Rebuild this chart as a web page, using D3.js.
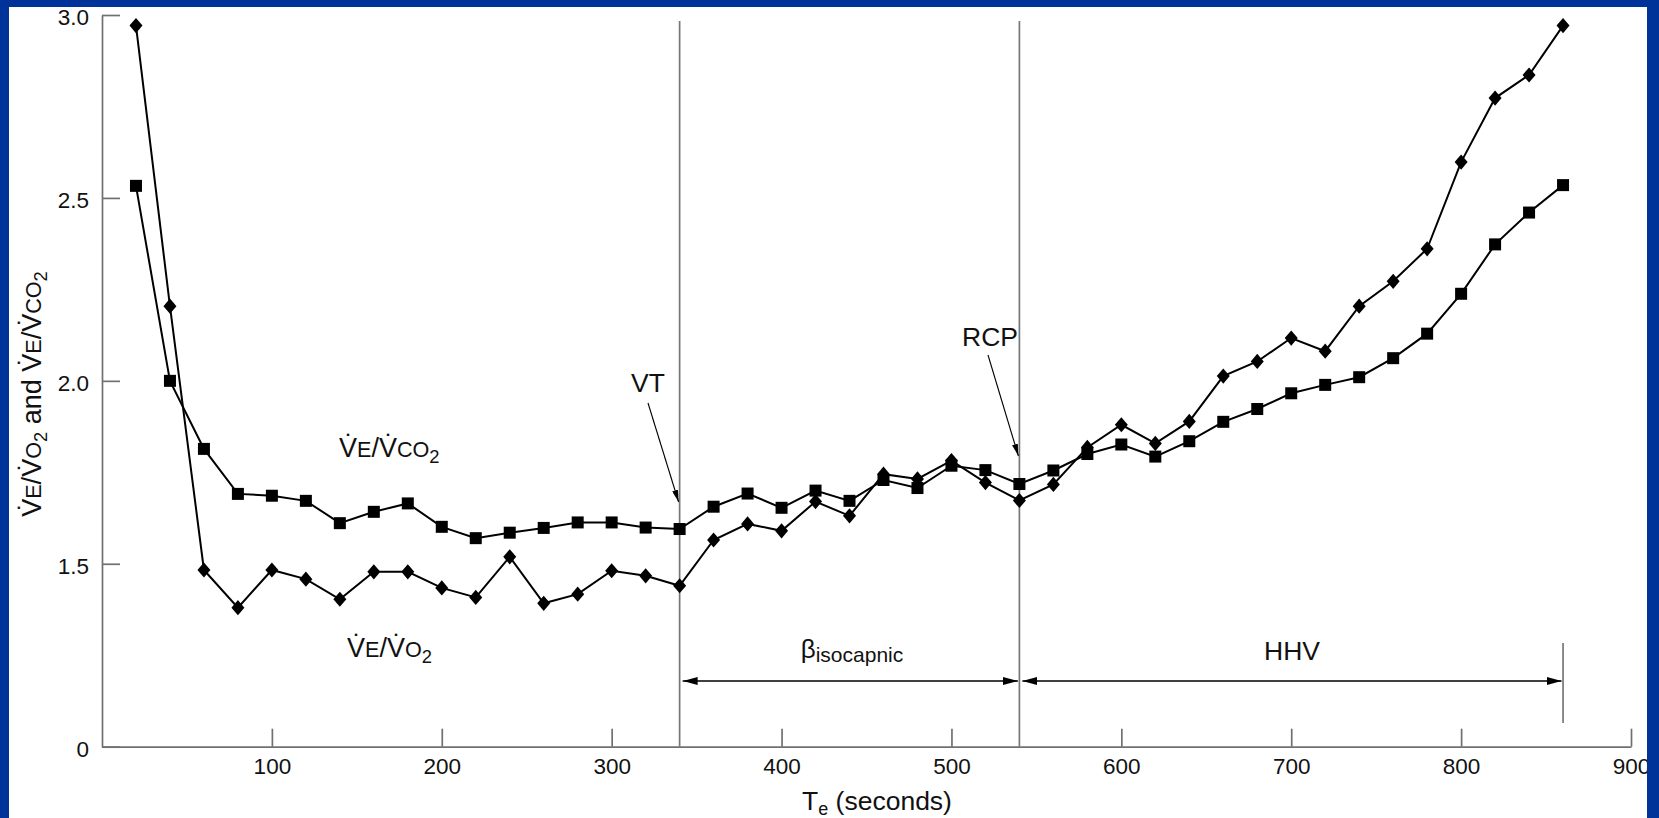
<!DOCTYPE html>
<html>
<head>
<meta charset="utf-8">
<script src="https://cdn.jsdelivr.net/npm/d3@7"></script>
<style>
  html, body { margin: 0; padding: 0; background: #003399; }
  svg { display: block; }
  text { font-family: "Liberation Sans", Arial, Helvetica, sans-serif; fill: #111; }
</style>
</head>
<body>
<svg id="chart" width="1659" height="818"></svg>
<script>
// Exercise test: ventilatory equivalents sampled every 20 s
const times = [20, 40, 60, 80, 100, 120, 140, 160, 180, 200, 220, 240, 260, 280, 300,
  320, 340, 360, 380, 400, 420, 440, 460, 480, 500, 520, 540, 560, 580, 600,
  620, 640, 660, 680, 700, 720, 740, 760, 780, 800, 820, 840, 860];

// VE/VCO2 (squares)
const veVco2 = [2.533, 2.000, 1.814, 1.691, 1.686, 1.672, 1.611, 1.642, 1.665, 1.601,
  1.570, 1.585, 1.598, 1.613, 1.613, 1.599, 1.595, 1.656, 1.692, 1.653,
  1.700, 1.672, 1.729, 1.707, 1.768, 1.756, 1.718, 1.755, 1.800, 1.826,
  1.793, 1.835, 1.888, 1.923, 1.966, 1.989, 2.010, 2.062, 2.129, 2.238,
  2.373, 2.460, 2.535];

// VE/VO2 (diamonds)
const veVo2 = [2.971, 2.204, 1.483, 1.380, 1.483, 1.458, 1.403, 1.478, 1.478, 1.434,
  1.408, 1.519, 1.392, 1.417, 1.481, 1.467, 1.440, 1.565, 1.609, 1.590,
  1.670, 1.631, 1.745, 1.732, 1.782, 1.722, 1.673, 1.717, 1.818, 1.880,
  1.829, 1.889, 2.013, 2.053, 2.117, 2.081, 2.204, 2.272, 2.361, 2.598,
  2.773, 2.836, 2.971];

const xTicks = [100, 200, 300, 400, 500, 600, 700, 800, 900];
const yTicks = [0, 1.5, 2.0, 2.5, 3.0];

// Threshold times (s)
const vtTime = 340;
const rcpTime = 540;
const endTime = 860;

const W = 1659, H = 818;
const frame = { left: 9, top: 7, right: 1647 };
const plot = { left: 102, right: 1631, top: 15, bottom: 746.7 };

const svg = d3.select("#chart");

// white sheet
svg.append("rect")
  .attr("x", frame.left).attr("y", frame.top)
  .attr("width", frame.right - frame.left).attr("height", H - frame.top)
  .attr("fill", "#fff");

const x = d3.scaleLinear().domain([0, 900]).range([plot.left, plot.right]);

// broken value axis: 0 .. yBreak is squeezed, yBreak .. 3.0 is linear (1.0 sits at the baseline)
const yBreak = 1.25;
const yLin = v => plot.top + (3.0 - v) / 2.0 * (plot.bottom - plot.top);
const y = d3.scaleLinear()
  .domain([0, yBreak, 3.0])
  .range([plot.bottom, yLin(yBreak), plot.top]);

const axisColor = "#707070";

// x axis
const gx = svg.append("g")
  .attr("transform", `translate(0,${plot.bottom})`)
  .call(d3.axisBottom(x).tickValues(xTicks).tickSize(-18).tickSizeOuter(0).tickPadding(11)
    .tickFormat(d3.format("d")));
gx.select(".domain").attr("stroke", axisColor).attr("stroke-width", 1.7);
gx.selectAll(".tick line").attr("stroke", axisColor).attr("stroke-width", 1.7);
gx.selectAll(".tick text").attr("font-size", 22.5).attr("fill", "#111")
  .attr("font-family", '"Liberation Sans", Arial, sans-serif');

// y axis
const gy = svg.append("g")
  .attr("transform", `translate(${plot.left},0)`)
  .call(d3.axisLeft(y).tickValues(yTicks).tickSize(-18).tickSizeOuter(0).tickPadding(13)
    .tickFormat(d => d === 0 ? "0" : d3.format(".1f")(d)));
gy.select(".domain").attr("stroke", axisColor).attr("stroke-width", 1.7);
gy.selectAll(".tick line").attr("stroke", axisColor).attr("stroke-width", 1.7);
gy.selectAll(".tick text").attr("font-size", 22.5).attr("fill", "#111").attr("dy", "0.42em")
  .attr("font-family", '"Liberation Sans", Arial, sans-serif');

// threshold lines
[vtTime, rcpTime].forEach(t => {
  svg.append("line")
    .attr("x1", x(t)).attr("x2", x(t))
    .attr("y1", 21).attr("y2", plot.bottom)
    .attr("stroke", "#777").attr("stroke-width", 1.7);
});
svg.append("line")
  .attr("x1", x(endTime)).attr("x2", x(endTime))
  .attr("y1", 643).attr("y2", 723)
  .attr("stroke", "#777").attr("stroke-width", 1.7);

// arrowheads
const defs = svg.append("defs");
defs.append("marker").attr("id", "head")
  .attr("viewBox", "0 0 15 8").attr("refX", 15).attr("refY", 4)
  .attr("markerWidth", 15).attr("markerHeight", 8).attr("markerUnits", "userSpaceOnUse")
  .attr("orient", "auto-start-reverse")
  .append("path").attr("d", "M0,0 L15,4 L0,8 Z").attr("fill", "#000");
defs.append("marker").attr("id", "pointer")
  .attr("viewBox", "0 0 12 6").attr("refX", 12).attr("refY", 3)
  .attr("markerWidth", 12).attr("markerHeight", 6).attr("markerUnits", "userSpaceOnUse")
  .attr("orient", "auto")
  .append("path").attr("d", "M0,0 L12,3 L0,6 Z").attr("fill", "#000");

// phase spans
const spanY = 681;
[[vtTime, rcpTime], [rcpTime, endTime]].forEach(([a, b]) => {
  svg.append("line")
    .attr("x1", x(a) + 3).attr("x2", x(b) - 1.5)
    .attr("y1", spanY).attr("y2", spanY)
    .attr("stroke", "#000").attr("stroke-width", 1.5)
    .attr("marker-start", "url(#head)").attr("marker-end", "url(#head)");
});

// threshold callouts
svg.append("line").attr("x1", 648).attr("y1", 403).attr("x2", x(vtTime) - 1).attr("y2", 502)
  .attr("stroke", "#000").attr("stroke-width", 1.1).attr("marker-end", "url(#pointer)");
svg.append("line").attr("x1", 988).attr("y1", 355).attr("x2", x(rcpTime) - 1).attr("y2", 456)
  .attr("stroke", "#000").attr("stroke-width", 1.1).attr("marker-end", "url(#pointer)");

svg.append("text").attr("x", 648).attr("y", 392).attr("text-anchor", "middle")
  .attr("font-size", 26.5).text("VT");
svg.append("text").attr("x", 1018).attr("y", 346).attr("text-anchor", "end")
  .attr("font-size", 26.5).text("RCP");
svg.append("text").attr("x", 1292).attr("y", 660).attr("text-anchor", "middle")
  .attr("font-size", 26.5).text("HHV");

const beta = svg.append("text").attr("x", 852).attr("y", 658).attr("text-anchor", "middle")
  .attr("font-size", 26);
beta.append("tspan").text("β");
beta.append("tspan").attr("font-size", 21).attr("dy", 4).text("isocapnic");

// text with dotted V, small-cap letters and subscripts
function richText(sel, parts, size) {
  parts.forEach(p => {
    const ts = sel.append("tspan").text(p.t);
    if (p.sc) ts.attr("font-size", size * 0.8);
    if (p.sub) ts.attr("font-size", size * 0.68).attr("dy", size * 0.22);
    if (p.up) ts.attr("dy", -size * 0.22);
  });
}
const dotV = "V\u0307";
const vo2Parts = [{ t: dotV }, { t: "E", sc: true }, { t: "/" }, { t: dotV }, { t: "O", sc: true }, { t: "2", sub: true }];
const vco2Parts = [{ t: dotV }, { t: "E", sc: true }, { t: "/" }, { t: dotV }, { t: "CO", sc: true }, { t: "2", sub: true }];

richText(svg.append("text").attr("x", 339).attr("y", 457).attr("font-size", 27), vco2Parts, 27);
richText(svg.append("text").attr("x", 347).attr("y", 657).attr("font-size", 27), vo2Parts, 27);

// y axis title
const yt = svg.append("text")
  .attr("transform", "translate(41,394) rotate(-90)")
  .attr("text-anchor", "middle").attr("font-size", 27);
richText(yt, [{ t: dotV }, { t: "E", sc: true }, { t: "/" }, { t: dotV }, { t: "O", sc: true }, { t: "2", sub: true },
  { t: " and ", up: true }, { t: dotV }, { t: "E", sc: true }, { t: "/" }, { t: dotV }, { t: "CO", sc: true }, { t: "2", sub: true }], 27);

// x axis title
const xt = svg.append("text").attr("x", 877).attr("y", 810).attr("text-anchor", "middle").attr("font-size", 26.5);
xt.append("tspan").text("T");
xt.append("tspan").attr("font-size", 18).attr("dy", 5).text("e");
xt.append("tspan").attr("dy", -5).text(" (seconds)");

// series
const line = d3.line().x((d, i) => x(times[i])).y(d => y(d));
[veVco2, veVo2].forEach(s => {
  svg.append("path").datum(s).attr("d", line)
    .attr("fill", "none").attr("stroke", "#000").attr("stroke-width", 2);
});

svg.append("g").selectAll("rect").data(veVco2).join("rect")
  .attr("x", (d, i) => x(times[i]) - 6).attr("y", d => y(d) - 6)
  .attr("width", 12).attr("height", 12).attr("fill", "#000");

svg.append("g").selectAll("path").data(veVo2).join("path")
  .attr("transform", (d, i) => `translate(${x(times[i])},${y(d)})`)
  .attr("d", "M0,-7.6 L6.5,0 L0,7.6 L-6.5,0 Z").attr("fill", "#000");

// blue frame drawn over the sheet edges
const blue = "#003399";
svg.append("rect").attr("x", 0).attr("y", 0).attr("width", W).attr("height", frame.top).attr("fill", blue);
svg.append("rect").attr("x", 0).attr("y", 0).attr("width", frame.left).attr("height", H).attr("fill", blue);
svg.append("rect").attr("x", frame.right).attr("y", 0).attr("width", W - frame.right).attr("height", H).attr("fill", blue);
</script>
</body>
</html>
